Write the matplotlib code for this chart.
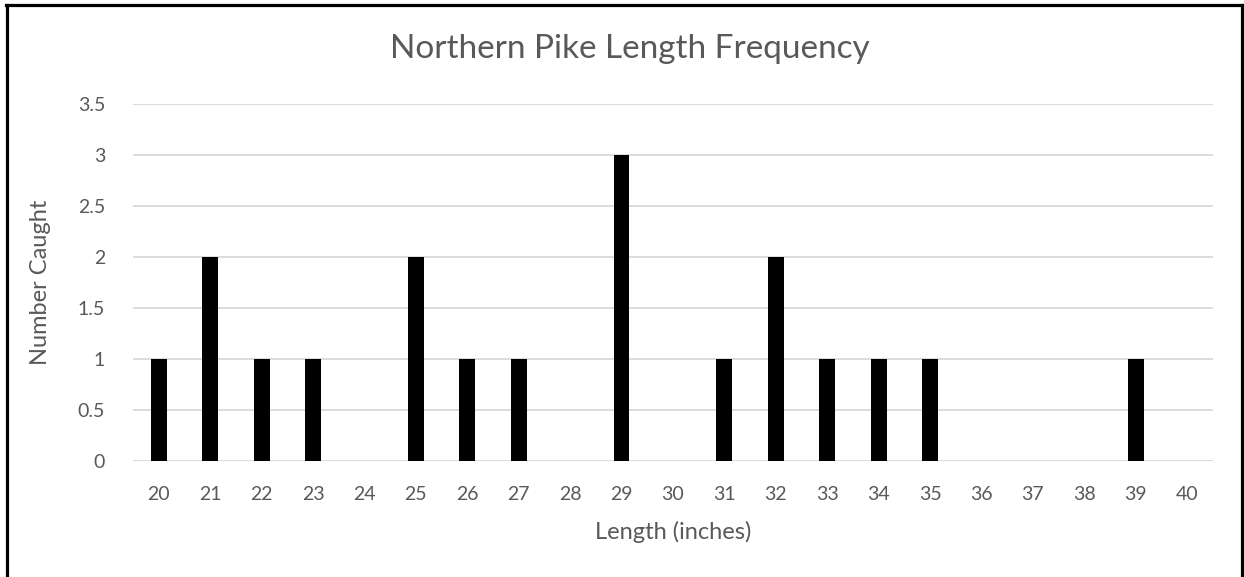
import matplotlib
matplotlib.use("Agg")
import matplotlib.pyplot as plt
from matplotlib.lines import Line2D

lengths = list(range(20, 41))
caught = [1, 2, 1, 1, 0, 2, 1, 1, 0, 3, 0, 1, 2, 1, 1, 1, 0, 0, 0, 1, 0]
y_ticks = [0, 0.5, 1, 1.5, 2, 2.5, 3, 3.5]
y_tick_labels = ["0", "0.5", "1", "1.5", "2", "2.5", "3", "3.5"]

plt.rcParams['font.family'] = ['Lato', 'DejaVu Sans']
text_color = '#595959'

fig = plt.figure(figsize=(12.44, 5.77), dpi=100)
ax = fig.add_axes([0.1069, 0.201, 0.975 - 0.1069, 0.8206 - 0.201])

x = list(range(len(lengths)))
ax.bar(x, caught, width=0.31, color='black', zorder=3)

ax.set_xlim(-0.5, len(lengths) - 0.5)
ax.set_ylim(0, 3.5)
ax.set_yticks(y_ticks)
ax.set_yticklabels(y_tick_labels)
ax.set_xticks(x)
ax.set_xticklabels([str(v) for v in lengths])
ax.grid(axis='y', color='#d9d9d9', linewidth=1.3, zorder=0)
ax.set_axisbelow(True)
for s in ax.spines.values():
    s.set_visible(False)
ax.tick_params(axis='both', length=0, labelsize=14, colors=text_color)
ax.tick_params(axis='x', pad=18)
ax.tick_params(axis='y', pad=20)

# chart title is centred on the whole chart area, not the plot area
fig.text(0.506, 1 - 58 / 577, 'Northern Pike Length Frequency', fontsize=24,
         color=text_color, ha='center', va='baseline')
ax.set_xlabel('Length (inches)', fontsize=17, color=text_color, labelpad=13)
ax.set_ylabel('Number Caught', fontsize=17, color=text_color, labelpad=19)

# black frame around the chart (no bottom edge visible)
W, H = 1244, 577
lw = 2.3
fig.add_artist(Line2D([6.5 / W, 6.5 / W], [0, 1 - 5 / H], color='black', linewidth=lw, transform=fig.transFigure))
fig.add_artist(Line2D([1241.5 / W, 1241.5 / W], [0, 1 - 5 / H], color='black', linewidth=lw, transform=fig.transFigure))
fig.add_artist(Line2D([5.5 / W, 1242.5 / W], [1 - 5 / H, 1 - 5 / H], color='black', linewidth=lw, transform=fig.transFigure))

fig.savefig('out.png', dpi=100, facecolor='white')
